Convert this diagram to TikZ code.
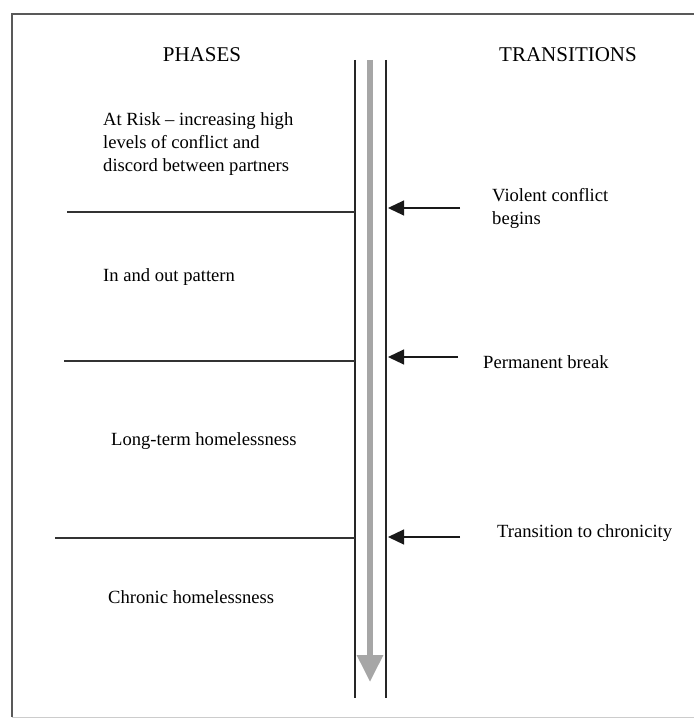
\documentclass[tikz,border=0pt]{standalone}
\usepackage{fontspec}
\setmainfont{Liberation Serif}
\usetikzlibrary{arrows.meta}
\begin{document}
\begin{tikzpicture}[x=1pt,y=-1pt,
  txt/.style={anchor=base west,inner sep=0pt,font=\fontsize{18.6}{23}\selectfont,align=left},
  head/.style={anchor=base,inner sep=0pt,font=\fontsize{21}{24}\selectfont},
  sep/.style={line width=1.3pt,draw=black!80},
  rail/.style={line width=1.2pt,draw=black!85},
  tarrow/.style={line width=1.2pt,draw=black!90,-{Triangle[length=16pt,width=15pt]}},
  flow/.style={line width=6pt,draw=black!35,-{Triangle[length=27pt,width=25pt]}}]
\useasboundingbox (0,0) rectangle (694,719);
\draw[line width=2pt,draw=black!65] (12,717) -- (12,14) -- (694,14);
\draw[line width=1pt,draw=black!20] (12,717) -- (694,717);
% headers
\node[head] (ph) at (202,62) {PHASES};
\node[head] (tr) at (568,62) {TRANSITIONS};
% rails
\coordinate (l1) at (355,60); \coordinate (l2) at (355,698);
\coordinate (r1) at (386,60); \coordinate (r2) at (386,698);
\draw[rail] (l1) -- (l2);
\draw[rail] (r1) -- (r2);
\coordinate (f1) at (370,60); \coordinate (f2) at (370,682);
\draw[flow] (f1) -- (f2);
% separators
\coordinate (s1a) at (67,212); \coordinate (s1b) at (355,212);
\coordinate (s2a) at (64,361); \coordinate (s2b) at (355,361);
\coordinate (s3a) at (55,538); \coordinate (s3b) at (355,538);
\draw[sep] (s1a) -- (s1b);
\draw[sep] (s2a) -- (s2b);
\draw[sep] (s3a) -- (s3b);
% transition arrows
\coordinate (a1s) at (460,208); \coordinate (a1e) at (388,208);
\coordinate (a2s) at (458,357); \coordinate (a2e) at (388,357);
\coordinate (a3s) at (460,537); \coordinate (a3e) at (388,537);
\draw[tarrow] (a1s) -- (a1e);
\draw[tarrow] (a2s) -- (a2e);
\draw[tarrow] (a3s) -- (a3e);
% phase texts
\node[txt] (p1) at (103,172) {At Risk -- increasing high\\levels of conflict and\\discord between partners};
\node[txt] (p2) at (103,281) {In and out pattern};
\node[txt] (p3) at (111,445) {Long-term homelessness};
\node[txt] (p4) at (108,603) {Chronic homelessness};
% transition texts
\node[txt] (t1) at (492,224) {Violent conflict\\begins};
\node[txt] (t2) at (483,368) {Permanent break};
\node[txt] (t3) at (497,537) {Transition to chronicity};
\end{tikzpicture}
\end{document}
